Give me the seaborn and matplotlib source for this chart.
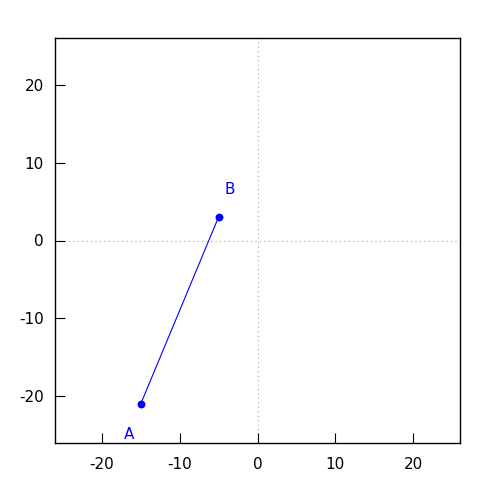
import pandas as pd
import seaborn as sns
import matplotlib.pyplot as plt

# data
names = ["A", "B"]
xs = [-15, -5]
ys = [-21, 3]
label_x = [-16.5, -3.5]
label_y = [-24.9, 6.5]
ticks = [-20, -10, 0, 10, 20]

df = pd.DataFrame({"name": names, "x": xs, "y": ys})

sns.set_style("white")
plt.rcParams["font.family"] = ["DejaVu Sans"]
plt.rcParams["axes.unicode_minus"] = False

fig = plt.figure(figsize=(5, 5), dpi=100)
ax = fig.add_axes([0.11, 0.114, 0.81, 0.81])

# zero axes
ax.axhline(0, color="#a0a0a0", lw=0.8, ls=(0, (1, 3)), zorder=0)
ax.axvline(0, color="#a0a0a0", lw=0.8, ls=(0, (1, 3)), zorder=0)

sns.lineplot(data=df, x="x", y="y", color="blue", lw=0.8, sort=False, ax=ax)
sns.scatterplot(data=df, x="x", y="y", color="blue", s=32, linewidth=0, ax=ax)

for n, lx, ly in zip(names, label_x, label_y):
    ax.text(lx, ly, n, color="blue", fontsize=11, ha="center", va="center")

ax.set_xlim(-26, 26)
ax.set_ylim(-26, 26)
ax.set_xticks(ticks)
ax.set_yticks(ticks)
ax.set_xlabel("")
ax.set_ylabel("")
ax.tick_params(direction="in", length=7, width=0.8, labelsize=11, colors="black",
               bottom=True, left=True, top=False, right=False)
ax.tick_params(axis="x", pad=10)
ax.tick_params(axis="y", pad=8)
for s in ax.spines.values():
    s.set_color("black")
    s.set_linewidth(1.0)

fig.savefig("out.png", dpi=100)
